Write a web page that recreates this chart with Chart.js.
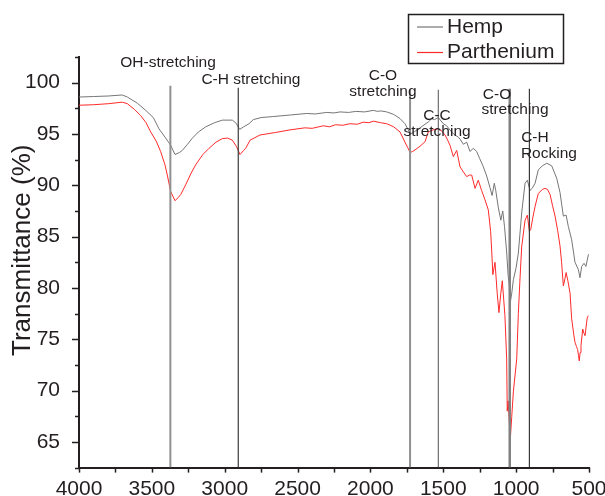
<!DOCTYPE html>
<html>
<head>
<meta charset="utf-8">
<script src="https://cdn.jsdelivr.net/npm/chart.js@4.4.1/dist/chart.umd.min.js"></script>
<style>
  html, body { margin: 0; padding: 0; background: #fff; }
  #wrap { width: 605px; height: 496px; }
</style>
</head>
<body>
<div id="wrap"><canvas id="ftir" width="605" height="496"></canvas></div>
<script>
// FTIR spectra, wavenumber (cm-1) vs transmittance (%)
const hempWn = [4000,3900,3800,3703,3668,3600,3542,3490,3451,3410,3371,3341,3310,3291,3255,3222,3180,3130,3070,3016,
  2948,2925,2914,2897,2870,2833,2804,2750,2667,2550,2437,2380,2300,2250,2209,2150,2100,2040,1980,1950,
  1930,1888,1840,1797,1763,1740,1725,1700,1670,1640,1600,1580,1560,1534,1500,1477,1443,1420,1397,1385,
  1362,1339,1317,1294,1271,1250,1225,1202,1180,1165,1150,1140,1122,1105,1092,1080,1065,1055,1048,1040,
  1030,1019,1000,985,962,939,923,905,890,870,848,820,790,756,722,699,676,657,642,619,
  596,573,562,550,534,521,505,500]
const hempT = [98.6,98.65,98.7,98.8,98.6,98.0,97.3,96.6,95.5,94.7,93.9,93.0,93.2,93.4,94.0,94.6,95.2,95.7,96.1,96.35,
  96.35,96.1,95.86,95.45,95.7,96.0,96.4,96.6,96.7,96.85,97.0,96.95,97.1,97.05,97.15,97.1,97.2,97.15,97.3,97.2,
  97.25,97.15,96.9,96.5,96.0,95.4,95.0,95.2,95.5,95.8,96.2,96.5,96.4,96.6,96.0,95.8,95.2,94.9,94.7,94.5,
  94.0,94.2,93.3,93.6,93.3,92.6,91.8,90.9,89.8,89.0,90.2,89.5,87.8,86.6,87.5,86.0,83.5,81.2,80.5,78.6,
  79.5,80.8,82.0,83.4,87.3,90.2,90.5,89.5,89.7,90.2,91.5,91.9,92.15,91.9,90.7,89.3,87.0,87.1,86.0,84.7,
  82.5,81.8,81.0,82.1,82.4,82.1,83.2,83.3]

const parthWn = [4000,3900,3800,3703,3668,3620,3577,3540,3508,3470,3440,3410,3394,3371,3341,3320,3302,3268,3230,3199,
  3150,3108,3060,3016,2980,2948,2920,2895,2870,2856,2826,2758,2650,2552,2450,2400,2323,2280,2240,2190,
  2140,2090,2050,2010,1980,1930,1888,1840,1797,1763,1745,1728,1710,1694,1660,1625,1603,1570,1534,1510,
  1488,1470,1454,1431,1408,1385,1362,1339,1320,1305,1282,1260,1237,1214,1191,1175,1168,1160,1145,1130,
  1118,1105,1095,1077,1065,1061,1055,1047,1040,1030,1019,996,985,975,962,939,923,909,900,885,
  870,848,820,802,785,767,750,733,715,699,688,676,665,657,645,630,619,605,596,586,
  578,572,567,561,555,543,535,527,520,512,505]
const parthT = [97.8,97.85,97.95,98.1,97.95,97.4,96.8,96.1,95.2,94.3,93.3,92.0,91.0,89.4,88.5,88.8,89.1,90.05,91.2,92.0,
  93.0,93.6,94.2,94.55,94.6,94.4,93.8,93.0,93.4,93.6,94.4,94.9,95.15,95.4,95.6,95.55,95.8,95.7,95.9,95.85,
  96.0,95.95,96.15,96.1,96.25,96.1,96.0,95.7,95.2,94.2,93.7,93.2,93.3,93.45,93.8,94.25,95.2,95.4,95.5,95.3,
  94.9,94.4,93.9,92.8,93.4,91.8,91.3,90.85,91.0,91.0,89.7,90.5,89.5,88.6,87.6,85.5,83.7,81.3,82.5,79.5,
  77.6,79.5,80.7,77.3,73.1,68.0,69.0,67.0,65.3,67.5,69.9,73.1,77.5,80.5,84.0,86.6,87.1,85.5,85.7,86.9,
  87.95,89.2,89.6,89.7,89.6,89.1,88.0,87.0,85.6,84.1,82.5,80.2,80.9,81.5,80.7,79.5,77.0,75.5,74.7,74.3,
  74.0,73.4,72.9,73.7,74.4,76.0,75.6,75.35,76.2,77.1,77.3]

// assigned bands (vertical markers)
const bandWn = [3373, 2907, 1728, 1534, 1044, 909]
const bandTop = [99.7, 99.5, 99.3, 99.3, 99.4, 99.4]

// band captions: text, wavenumber, transmittance of the caption centre
const capText = ['OH-stretching','C-H stretching','C-O','stretching','C-C','stretching','C-O','stretching','C-H','Rocking']
const capWn = [3389, 2820, 1914, 1914, 1543, 1543, 1131, 1008, 871, 775]
const capT = [101.9, 100.25, 100.65, 99.1, 96.75, 95.2, 98.8, 97.35, 94.65, 93.1]

const xMin = 500, xMax = 4000, yMin = 62.5, yMax = 102.5

const ink = '#231f20'
const fam = '"Liberation Sans", Arial, sans-serif'
Chart.defaults.font.family = fam
Chart.defaults.color = ink

const bandColor = ['#909090','#3a3a3a','#909090','#6e6e6e','#808080','#3a3a3a']
const bandWidth = [2, 1.2, 2, 1.2, 2.5, 1.2]

const toXY = (ws, ts) => ws.map((w, i) => ({x: w, y: ts[i]}))

const bandSets = bandWn.map((w, i) => ({
  data: [{x: w, y: yMin}, {x: w, y: bandTop[i]}],
  borderColor: bandColor[i],
  borderWidth: bandWidth[i],
  pointRadius: 0,
  order: 0
}))

const extras = {
  id: 'extras',
  afterDraw(chart) {
    const ctx = chart.ctx
    const xs = chart.scales.x, ys = chart.scales.y
    ctx.save()
    ctx.strokeStyle = ink
    ctx.lineWidth = 1.5
    xs.ticks.forEach(t => {
      const px = Math.round(xs.getPixelForValue(t.value)) + 0.5
      ctx.beginPath(); ctx.moveTo(px, xs.top); ctx.lineTo(px, xs.top + 5); ctx.stroke()
    })
    ys.ticks.forEach(t => {
      const py = Math.round(ys.getPixelForValue(t.value)) + 0.5
      const len = t.value % 5 === 0 ? 7 : 4
      ctx.beginPath(); ctx.moveTo(ys.right, py); ctx.lineTo(ys.right - len, py); ctx.stroke()
    })

    // y axis title
    ctx.fillStyle = ink
    ctx.save()
    ctx.translate(23, (ys.top + ys.bottom) / 2 - 12)
    ctx.rotate(-Math.PI / 2)
    ctx.font = '26px ' + fam
    ctx.textAlign = 'center'
    ctx.textBaseline = 'middle'
    ctx.fillText('Transmittance (%)', 0, 0)
    ctx.restore()

    // captions
    ctx.font = '15.5px ' + fam
    ctx.textAlign = 'center'
    ctx.textBaseline = 'middle'
    capText.forEach((s, i) => ctx.fillText(s, xs.getPixelForValue(capWn[i]), ys.getPixelForValue(capT[i])))

    // legend box
    const named = chart.data.datasets.filter(d => d.label)
    ctx.lineWidth = 1.5
    ctx.strokeRect(408.5, 14.5, 155, 49)
    ctx.font = '21px ' + fam
    ctx.textAlign = 'left'
    named.forEach((d, i) => {
      const y = 27 + i * 25.5
      ctx.strokeStyle = d.borderColor
      ctx.lineWidth = 1.2
      ctx.beginPath(); ctx.moveTo(417, y); ctx.lineTo(443, y); ctx.stroke()
      ctx.fillText(d.label, 447, y)
    })
    ctx.restore()
  }
}

new Chart(document.getElementById('ftir'), {
  type: 'line',
  data: {
    datasets: [
      ...bandSets,
      {
        label: 'Hemp',
        data: toXY(hempWn, hempT),
        borderColor: '#767676',
        borderWidth: 1,
        pointRadius: 0,
        tension: 0,
        order: 1
      },
      {
        label: 'Parthenium',
        data: toXY(parthWn, parthT),
        borderColor: '#ff2a2a',
        borderWidth: 1,
        pointRadius: 0,
        tension: 0,
        order: 1
      }
    ]
  },
  options: {
    responsive: false,
    animation: false,
    layout: { padding: { top: 57, right: 16, left: 0, bottom: 0 } },
    plugins: { legend: { display: false }, tooltip: { enabled: false } },
    scales: {
      x: {
        type: 'linear',
        reverse: true,
        min: xMin,
        max: xMax,
        grid: { display: false },
        border: { display: true, color: ink, width: 2 },
        ticks: {
          stepSize: 250,
          autoSkip: false,
          maxRotation: 0,
          padding: 1,
          color: ink,
          font: { size: 21 },
          callback: v => v % 500 === 0 ? String(v) : ''
        },
        afterFit: s => { s.height = 28.4; s.paddingLeft = 0; s.paddingRight = 0 }
      },
      y: {
        min: yMin,
        max: yMax,
        grid: { display: false },
        border: { display: true, color: ink, width: 2 },
        ticks: {
          stepSize: 2.5,
          autoSkip: false,
          padding: 11,
          color: ink,
          font: { size: 21 },
          callback: v => v % 5 === 0 ? String(v) : ''
        },
        afterFit: s => { s.width = 79 }
      }
    }
  },
  plugins: [extras]
})
</script>
</body>
</html>
